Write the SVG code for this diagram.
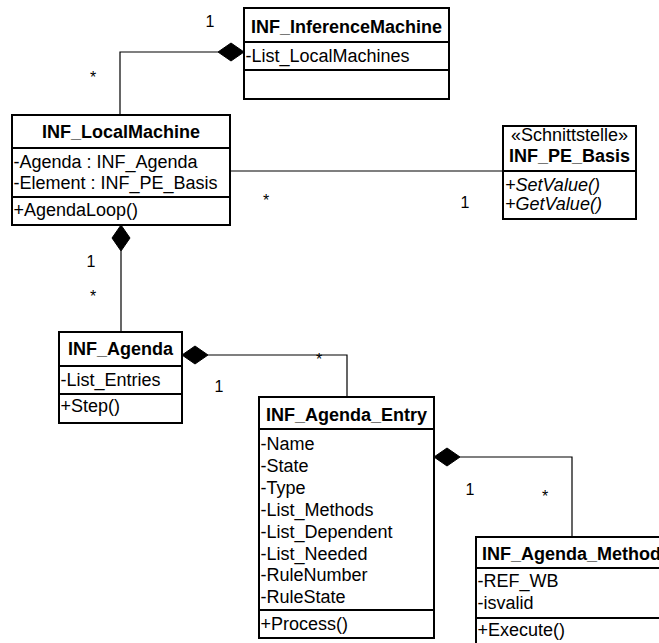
<svg xmlns="http://www.w3.org/2000/svg" width="659" height="643" viewBox="0 0 659 643">
  <style>
    text { font-family: "Liberation Sans", Arial, sans-serif; font-size: 18px; fill: #000; }
    .title { font-weight: bold; text-anchor: middle; }
    .stereo { text-anchor: middle; }
    .abstract { font-style: italic; }
    .mult { font-size: 16px; text-anchor: middle; }
    .box { fill: #fff; stroke: #000; stroke-width: 2; }
    .sep { stroke: #000; stroke-width: 2; }
    .conn { fill: none; stroke: #000; stroke-width: 1.2; }
    .diamond { fill: #000; stroke: #000; stroke-width: 1; }
  </style>

  <rect x="0" y="0" width="659" height="643" fill="#fff"/>

  <!-- associations and compositions -->
  <g id="connectors">
    <!-- InferenceMachine 1 ◆— * LocalMachine -->
    <polyline class="conn" points="218,52 120,52 120,115"/>
    <polygon class="diamond" points="244,52 231,43 218,52 231,61"/>
    <text class="mult" x="210" y="27">1</text>
    <text class="mult" x="93" y="83">*</text>

    <!-- LocalMachine * — 1 PE_Basis -->
    <line class="conn" x1="230" y1="171" x2="503" y2="171"/>
    <text class="mult" x="266" y="206">*</text>
    <text class="mult" x="465" y="208">1</text>

    <!-- LocalMachine 1 ◆— * Agenda -->
    <line class="conn" x1="121" y1="251" x2="121" y2="332"/>
    <polygon class="diamond" points="121,225 130,238 121,251 112,238"/>
    <text class="mult" x="91" y="267">1</text>
    <text class="mult" x="93" y="302">*</text>

    <!-- Agenda 1 ◆— * Agenda_Entry -->
    <polyline class="conn" points="208,355 347,355 347,397"/>
    <polygon class="diamond" points="182,355 195,346 208,355 195,364"/>
    <text class="mult" x="319" y="365">*</text>
    <text class="mult" x="219" y="392">1</text>

    <!-- Agenda_Entry 1 ◆— * Agenda_Method -->
    <polyline class="conn" points="460,457 572,457 572,537"/>
    <polygon class="diamond" points="434,457 447,448 460,457 447,466"/>
    <text class="mult" x="470" y="495">1</text>
    <text class="mult" x="545" y="502">*</text>
  </g>

  <g id="INF_InferenceMachine">
    <rect class="box" x="244" y="8" width="205" height="91"/>
    <line class="sep" x1="244" y1="42" x2="449" y2="42"/>
    <line class="sep" x1="244" y1="70" x2="449" y2="70"/>
    <text class="title" x="346.5" y="33">INF_InferenceMachine</text>
    <text x="245.5" y="62">-List_LocalMachines</text>
  </g>

  <g id="INF_LocalMachine">
    <rect class="box" x="12" y="115" width="218" height="110"/>
    <line class="sep" x1="12" y1="148" x2="230" y2="148"/>
    <line class="sep" x1="12" y1="197" x2="230" y2="197"/>
    <text class="title" x="121" y="138">INF_LocalMachine</text>
    <text x="13.5" y="168">-Agenda : INF_Agenda</text>
    <text x="13.5" y="189">-Element : INF_PE_Basis</text>
    <text x="13.5" y="216">+AgendaLoop()</text>
  </g>

  <g id="INF_PE_Basis">
    <rect class="box" x="503" y="126" width="133" height="93"/>
    <line class="sep" x1="503" y1="171" x2="636" y2="171"/>
    <text class="stereo" x="569.5" y="141">«Schnittstelle»</text>
    <text class="title" x="569.5" y="162">INF_PE_Basis</text>
    <text class="abstract" x="505" y="191">+SetValue()</text>
    <text class="abstract" x="505" y="210">+GetValue()</text>
  </g>

  <g id="INF_Agenda">
    <rect class="box" x="59" y="332" width="123" height="91"/>
    <line class="sep" x1="59" y1="366" x2="182" y2="366"/>
    <line class="sep" x1="59" y1="394" x2="182" y2="394"/>
    <text class="title" x="120.5" y="355">INF_Agenda</text>
    <text x="60.5" y="386">-List_Entries</text>
    <text x="60.5" y="412">+Step()</text>
  </g>

  <g id="INF_Agenda_Entry">
    <rect class="box" x="259" y="397" width="175" height="241"/>
    <line class="sep" x1="259" y1="429" x2="434" y2="429"/>
    <line class="sep" x1="259" y1="610" x2="434" y2="610"/>
    <text class="title" x="346.5" y="421">INF_Agenda_Entry</text>
    <text x="260.5" y="450">-Name</text>
    <text x="260.5" y="472">-State</text>
    <text x="260.5" y="494">-Type</text>
    <text x="260.5" y="516">-List_Methods</text>
    <text x="260.5" y="538">-List_Dependent</text>
    <text x="260.5" y="560">-List_Needed</text>
    <text x="260.5" y="581">-RuleNumber</text>
    <text x="260.5" y="603">-RuleState</text>
    <text x="260.5" y="630">+Process()</text>
  </g>

  <g id="INF_Agenda_Method">
    <rect class="box" x="476" y="537" width="191" height="120"/>
    <line class="sep" x1="476" y1="568" x2="667" y2="568"/>
    <line class="sep" x1="476" y1="618" x2="667" y2="618"/>
    <text class="title" x="571.5" y="560">INF_Agenda_Method</text>
    <text x="477.5" y="587">-REF_WB</text>
    <text x="477.5" y="609">-isvalid</text>
    <text x="477.5" y="636">+Execute()</text>
  </g>
</svg>
